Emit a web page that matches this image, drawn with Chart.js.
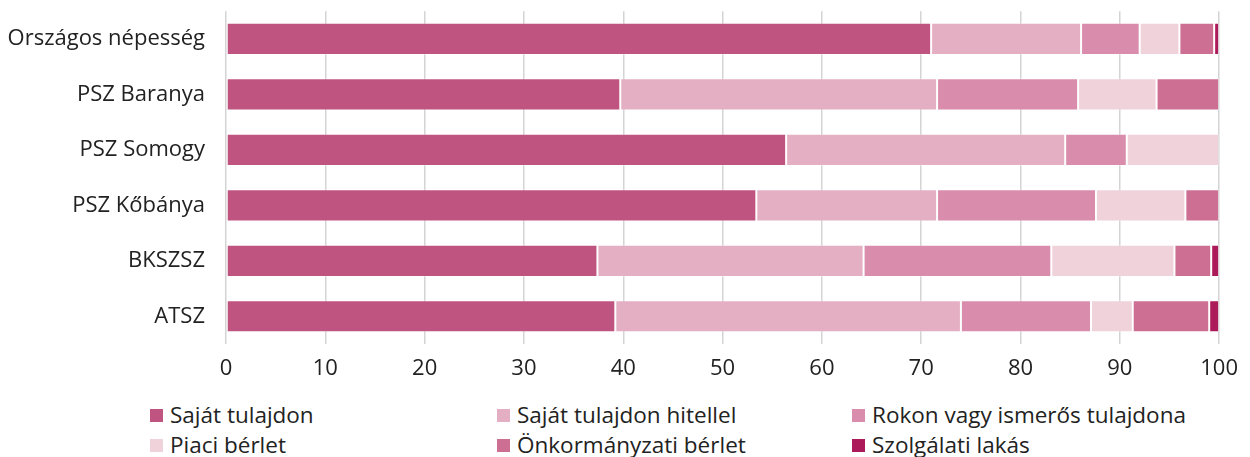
<!DOCTYPE html>
<html>
<head>
<meta charset="utf-8">
<script src="https://cdn.jsdelivr.net/npm/chart.js@4"></script>
<style>
  body { margin: 0; background: #fff; font-family: "Open Sans", sans-serif; overflow: hidden; }
  #wrap { position: relative; width: 1250px; height: 457px; overflow: hidden; }
  #chartBox { position: absolute; left: 0; top: -15px; width: 1250px; height: 405px; }
  #legend { position: absolute; left: 0; top: 400px; width: 1250px; }
  .item { position: absolute; display: flex; align-items: center; font-size: 22.5px; line-height: 30px; color: #222; white-space: nowrap; }
  .item span.box { display: inline-block; width: 13px; height: 13px; margin-right: 7px; }
</style>
</head>
<body>
<div id="wrap">
  <div id="chartBox"><canvas id="housingChart"></canvas></div>
  <div id="legend"></div>
</div>
<script>
// Categories (top to bottom)
const categories = ['Országos népesség', 'PSZ Baranya', 'PSZ Somogy', 'PSZ Kőbánya', 'BKSZSZ', 'ATSZ'];

// Series values, percent
const sajatTulajdon   = [71.0, 39.7, 56.4, 53.4, 37.4, 39.2];
const sajatHitellel   = [15.1, 31.9, 28.1, 18.2, 26.8, 34.8];
const rokonTulajdona  = [5.9, 14.2, 6.2, 16.0, 18.9, 13.1];
const piaciBerlet     = [4.0, 7.9, 9.3, 9.0, 12.4, 4.2];
const onkormanyzati   = [3.5, 6.3, 0, 3.4, 3.7, 7.7];
const szolgalati      = [0.5, 0, 0, 0, 0.8, 1.0];

const seriesNames = ['Saját tulajdon', 'Saját tulajdon hitellel', 'Rokon vagy ismerős tulajdona',
                     'Piaci bérlet', 'Önkormányzati bérlet', 'Szolgálati lakás'];
const seriesColors = ['#c05480', '#e4afc3', '#d98cab', '#f0d2db', '#cc6f93', '#ad1a5a'];
const seriesData = [sajatTulajdon, sajatHitellel, rokonTulajdona, piaciBerlet, onkormanyzati, szolgalati];

// x axis ticks
const xTicks = [0, 10, 20, 30, 40, 50, 60, 70, 80, 90, 100];

const fontFamily = '"Open Sans", sans-serif';

const datasets = seriesNames.map((name, i) => ({
  label: name,
  data: seriesData[i],
  backgroundColor: seriesColors[i],
  borderColor: 'rgba(255,255,255,0.35)',
  borderWidth: 1,
  borderSkipped: false,
  barPercentage: 0.58,
  categoryPercentage: 1.0
}));

const ctx = document.getElementById('housingChart').getContext('2d');
new Chart(ctx, {
  type: 'bar',
  data: { labels: categories, datasets: datasets },
  options: {
    indexAxis: 'y',
    responsive: true,
    maintainAspectRatio: false,
    animation: false,
    layout: { padding: { top: 0, right: 13, left: 0, bottom: 0 } },
    plugins: {
      legend: { display: false },
      tooltip: { enabled: false }
    },
    scales: {
      x: {
        stacked: true,
        min: 0,
        max: 100,
        afterBuildTicks: (axis) => { axis.ticks = xTicks.map(v => ({ value: v })); },
        afterFit: (axis) => { axis.height = 46; },
        grid: { color: '#d4d4d4', lineWidth: 1.5, drawTicks: false },
        border: { display: false },
        ticks: { color: '#222', padding: 12, font: { family: fontFamily, size: 22 } }
      },
      y: {
        stacked: true,
        afterFit: (axis) => { axis.width = 226; },
        grid: { display: false },
        border: { display: false },
        ticks: { color: '#222', padding: 13, font: { family: fontFamily, size: 22 } }
      }
    }
  }
});

// HTML legend, 3 columns x 2 rows
const legendX = [150, 497, 852];
const legendY = [0, 30];
const legendEl = document.getElementById('legend');
seriesNames.forEach((name, i) => {
  const item = document.createElement('div');
  item.className = 'item';
  item.style.left = legendX[i % 3] + 'px';
  item.style.top = legendY[Math.floor(i / 3)] + 'px';
  item.innerHTML = '<span class="box" style="background:' + seriesColors[i] + '"></span>' + name;
  legendEl.appendChild(item);
});
</script>
</body>
</html>
